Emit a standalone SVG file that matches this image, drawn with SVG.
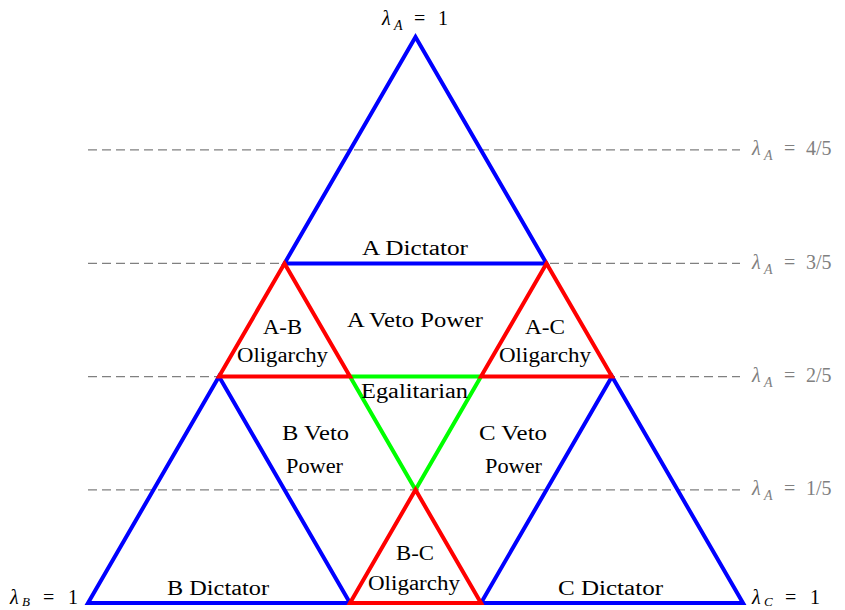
<svg xmlns="http://www.w3.org/2000/svg" width="845" height="610" viewBox="0 0 845 610">
<style>
.t{font-family:"Liberation Serif","Times New Roman",serif;font-size:20px;fill:#000}
.g{fill:#808080}
.it{font-style:italic}
.sub{font-size:14px;font-style:italic}
.sb{font-size:13px;font-style:italic}
.dash{stroke:#808080;stroke-width:1.3;stroke-dasharray:9 5;fill:none}
.b{stroke:#0000ff;stroke-width:4;fill:none;stroke-linejoin:miter}
.r{stroke:#ff0000;stroke-width:4;fill:none;stroke-linejoin:miter}
.gr{stroke:#00ff00;stroke-width:4;fill:none;stroke-linejoin:miter}
</style>
<rect width="845" height="610" fill="#ffffff"/>
<g id="gridlines">
<line class="dash" x1="88" y1="149.8" x2="740" y2="149.8"/>
<line class="dash" x1="88" y1="263.4" x2="740" y2="263.4"/>
<line class="dash" x1="88" y1="376.6" x2="740" y2="376.6"/>
<line class="dash" x1="88" y1="489.8" x2="740" y2="489.8"/>
</g>
<g id="connectors">
<path class="b" d="M284.5,263.4 L415.5,37 L546.5,263.4 Z"/>
<path class="b" d="M219,376.6 L88,603 L350,603 Z"/>
<path class="b" d="M612,376.6 L481,603 L743,603 Z"/>
<path class="gr" d="M350,376.6 L481,376.6 L415.5,489.8 Z"/>
<path class="r" d="M284.5,263.4 L219,376.6 L350,376.6 Z"/>
<path class="r" d="M546.5,263.4 L481,376.6 L612,376.6 Z"/>
<path class="r" d="M415.5,489.8 L350,603 L481,603 Z"/>
</g>
<g id="a-dictator"><text class="t" x="362" y="255" textLength="106" lengthAdjust="spacingAndGlyphs">A Dictator</text></g>
<g id="a-veto"><text class="t" x="347" y="327" textLength="136" lengthAdjust="spacingAndGlyphs">A Veto Power</text></g>
<g id="ab-oligarchy">
<text class="t" x="263" y="334" textLength="39" lengthAdjust="spacingAndGlyphs">A-B</text>
<text class="t" x="237" y="362" textLength="91" lengthAdjust="spacingAndGlyphs">Oligarchy</text>
</g>
<g id="ac-oligarchy">
<text class="t" x="525" y="334" textLength="40" lengthAdjust="spacingAndGlyphs">A-C</text>
<text class="t" x="499" y="362" textLength="92" lengthAdjust="spacingAndGlyphs">Oligarchy</text>
</g>
<g id="egalitarian"><text class="t" x="361" y="398" textLength="107" lengthAdjust="spacingAndGlyphs">Egalitarian</text></g>
<g id="b-veto">
<text class="t" x="282" y="440" textLength="67" lengthAdjust="spacingAndGlyphs">B Veto</text>
<text class="t" x="286" y="473" textLength="57" lengthAdjust="spacingAndGlyphs">Power</text>
</g>
<g id="c-veto">
<text class="t" x="479" y="440" textLength="68" lengthAdjust="spacingAndGlyphs">C Veto</text>
<text class="t" x="485" y="473" textLength="57" lengthAdjust="spacingAndGlyphs">Power</text>
</g>
<g id="bc-oligarchy">
<text class="t" x="396" y="560" textLength="38" lengthAdjust="spacingAndGlyphs">B-C</text>
<text class="t" x="368" y="590" textLength="92" lengthAdjust="spacingAndGlyphs">Oligarchy</text>
</g>
<g id="b-dictator"><text class="t" x="167" y="595" textLength="102" lengthAdjust="spacingAndGlyphs">B Dictator</text></g>
<g id="c-dictator"><text class="t" x="558" y="595" textLength="105" lengthAdjust="spacingAndGlyphs">C Dictator</text></g>
<g id="vertex-a">
<text class="t it" x="382" y="25">λ</text><text class="t sub" x="394" y="30">A</text><text class="t" x="414" y="25">=</text><text class="t" x="438" y="25">1</text>
</g>
<g id="vertex-b">
<text class="t it" x="10" y="604">λ</text><text class="t sb" x="22" y="606">B</text><text class="t" x="43" y="604">=</text><text class="t" x="68" y="604">1</text>
</g>
<g id="vertex-c">
<text class="t it" x="752" y="604">λ</text><text class="t sb" x="764" y="606">C</text><text class="t" x="785" y="604">=</text><text class="t" x="810" y="604">1</text>
</g>
<g id="level-labels">
<text class="t g it" x="752" y="155">λ</text><text class="t g sub" x="764" y="160">A</text><text class="t g" x="784" y="155">=</text><text class="t g" x="806" y="155">4/5</text>
<text class="t g it" x="752" y="268.6">λ</text><text class="t g sub" x="764" y="273.6">A</text><text class="t g" x="784" y="268.6">=</text><text class="t g" x="806" y="268.6">3/5</text>
<text class="t g it" x="752" y="381.8">λ</text><text class="t g sub" x="764" y="386.8">A</text><text class="t g" x="784" y="381.8">=</text><text class="t g" x="806" y="381.8">2/5</text>
<text class="t g it" x="752" y="495">λ</text><text class="t g sub" x="764" y="500">A</text><text class="t g" x="784" y="495">=</text><text class="t g" x="806" y="495">1/5</text>
</g>
</svg>
